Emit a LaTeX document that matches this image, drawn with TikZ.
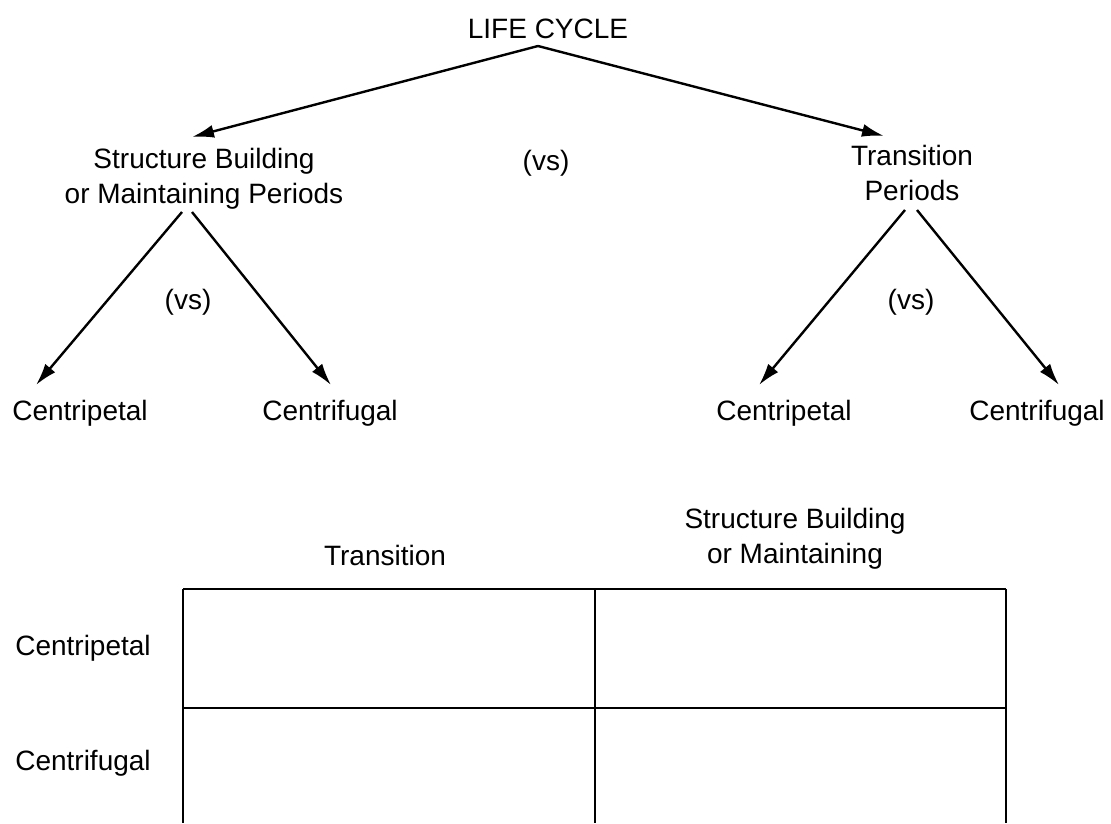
\documentclass[tikz,border=0pt]{standalone}
\usepackage{fontspec}
\setmainfont{Liberation Sans}
\usetikzlibrary{arrows.meta}
\begin{document}
\begin{tikzpicture}[x=1pt,y=-1pt,
  lbl/.style={inner sep=0pt,anchor=base,font=\fontsize{28}{35}\selectfont,align=center},
  arr/.style={line width=2.4pt,-{Latex[length=22pt,width=13pt]}},
  grid/.style={line width=2pt}]
\useasboundingbox (0,0) rectangle (1111,823);
% tree labels
\node[lbl] (life) at (548,38) {LIFE CYCLE};
\node[lbl] (sb) at (204,203) {Structure Building\\or Maintaining Periods};
\node[lbl] (vsa) at (546,170) {(vs)};
\node[lbl] (tp) at (912,200) {Transition\\Periods};
\node[lbl] (vsb) at (188,309) {(vs)};
\node[lbl] (vsc) at (911,309) {(vs)};
\node[lbl] (cp1) at (80,420) {Centripetal};
\node[lbl] (cf1) at (330,420) {Centrifugal};
\node[lbl] (cp2) at (784,420) {Centripetal};
\node[lbl] (cf2) at (1037,420) {Centrifugal};
% connector anchors
\coordinate (apex) at (538,46);
\coordinate (sbtop) at (192,137);
\coordinate (tptop) at (884,136);
\coordinate (sbl) at (182,212);
\coordinate (sbr) at (192,212);
\coordinate (tpl) at (905,210);
\coordinate (tpr) at (917,210);
\coordinate (cp1top) at (36,385);
\coordinate (cf1top) at (331,385);
\coordinate (cp2top) at (759,385);
\coordinate (cf2top) at (1059,385);
\draw[arr] (apex) -- (sbtop);
\draw[arr] (apex) -- (tptop);
\draw[arr] (sbl) -- (cp1top);
\draw[arr] (sbr) -- (cf1top);
\draw[arr] (tpl) -- (cp2top);
\draw[arr] (tpr) -- (cf2top);
% table
\node[lbl] (hT) at (385,565) {Transition};
\node[lbl] (hS) at (795,563) {Structure Building\\or Maintaining};
\node[lbl] (rP) at (83,655) {Centripetal};
\node[lbl] (rF) at (83,770) {Centrifugal};
\draw[grid] (183,589) -- (1006,589);
\draw[grid] (183,708) -- (1006,708);
\draw[grid] (183,589) -- (183,823);
\draw[grid] (595,589) -- (595,823);
\draw[grid] (1006,589) -- (1006,823);
\end{tikzpicture}
\end{document}
